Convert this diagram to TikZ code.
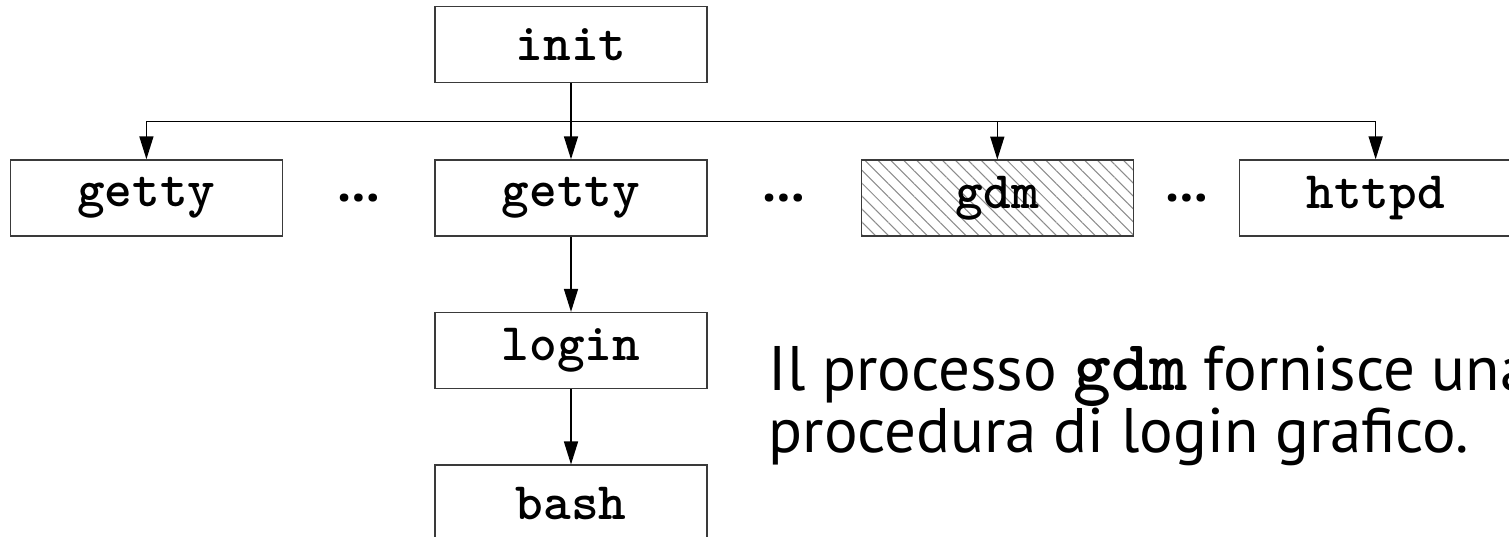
\documentclass[tikz,border=0pt]{standalone}
\usepackage{fontspec}
\setmainfont{PT Sans}
\usetikzlibrary{arrows.meta, positioning, patterns.meta, calc}
\definecolor{bgray}{HTML}{3A3A3A}
\definecolor{hgray}{HTML}{8C8C8C}
\newcommand{\boxfont}{\fontsize{15pt}{17pt}\selectfont\ttfamily\bfseries}
\tikzstyle{proc} = [rectangle, draw=bgray, line width=0.45pt, minimum width=2.72cm, minimum height=0.76cm, inner sep=0pt, font=\boxfont]
\tikzstyle{busy} = [proc, pattern={Lines[angle=-45, distance=2.6pt, line width=0.3pt]}, pattern color=hgray]
\tikzstyle{gap} = [inner sep=0pt, font=\fontsize{15pt}{17pt}\selectfont\bfseries]
\tikzstyle{link} = [line width=0.45pt, -{Triangle[length=0.23cm, width=0.14cm]}]

\begin{document}
\begin{tikzpicture}
  \useasboundingbox (0,0) rectangle (15.09,5.36);
  \node (init) [proc] at (5.71,4.915) {init};
  \node (getty2) [proc, below=0.76cm of init] {getty};
  \node (getty1) [proc, left=1.51cm of getty2] {getty};
  \node (gdm) [busy, right=1.53cm of getty2] {gdm};
  \node (httpd) [proc, right=1.05cm of gdm] {httpd};
  \node (login) [proc, below=0.75cm of getty2] {login};
  \node (bash) [proc, below=0.75cm of login] {bash};
  % puntini fra i figli di init
  \node (dots1) [gap] at ($(getty1.east)!0.5!(getty2.west)$) {\dots};
  \node (dots2) [gap] at ($(getty2.east)!0.5!(gdm.west)$) {\dots};
  \node (dots3) [gap] at ($(gdm.east)!0.5!(httpd.west)$) {\dots};
  \coordinate (fork) at ($(init.south)!0.5!(getty2.north)$);
  \draw [link] (init) -- (getty2);
  \draw [link] (fork) -| (getty1);
  \draw [link] (fork) -| (gdm);
  \draw [link] (fork) -| (httpd);
  \draw [link] (getty2) -- (login);
  \draw [link] (login) -- (bash);
  % base = riga di base dell'ultima riga
  \node (note) [anchor=base west, align=left, inner sep=0pt, font=\fontsize{17.9pt}{17.6pt}\selectfont] at (7.68,0.84)
    {Il processo {\fontsize{20.5pt}{17.6pt}\selectfont\ttfamily\bfseries gdm} fornisce una\\procedura di login grafico.};
\end{tikzpicture}
\end{document}
